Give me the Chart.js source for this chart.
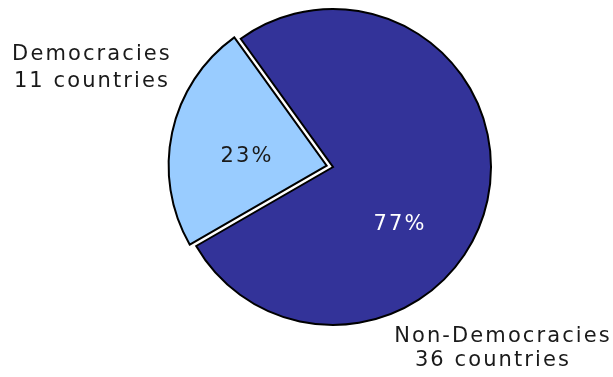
<!DOCTYPE html>
<html>
<head>
<meta charset="utf-8">
<script src="https://cdn.jsdelivr.net/npm/chart.js@4"></script>
<style>
  html, body { margin: 0; padding: 0; background: #fff; }
  canvas { display: block; }
</style>
</head>
<body>
<canvas id="regimeChart" width="613" height="377"></canvas>
<script>
const categories = ['Democracies', 'Non-Democracies'];
const countries = [11, 36];
const sliceColors = ['#99CCFF', '#333399'];
const pctColors = ['#1a1a1a', '#ffffff'];

// label placement, relative to the pie centre: [x, y] for the percentage,
// [name x, name y, count x, count y] for the outside caption
const pctPos = [[-86, -5], [67, 63]];
const namePos = [[-241, -107, -241, -80], [170, 175, 160, 199]];

const total = countries.reduce((a, b) => a + b, 0);

const labelPlugin = {
    id: 'sliceLabels',
    afterDatasetsDraw(chart) {
        const ctx = chart.ctx;
        const arcs = chart.getDatasetMeta(0).data;
        const cx = (chart.chartArea.left + chart.chartArea.right) / 2;
        const cy = (chart.chartArea.top + chart.chartArea.bottom) / 2;
        ctx.save();
        ctx.font = '21px "DejaVu Sans"';
        ctx.letterSpacing = '2.1px';
        ctx.textAlign = 'center';
        ctx.textBaseline = 'alphabetic';
        arcs.forEach((arc, i) => {
            const pct = Math.round(countries[i] / total * 100) + '%';
            ctx.fillStyle = pctColors[i];
            ctx.fillText(pct, cx + pctPos[i][0], cy + pctPos[i][1]);

            const [nx, ny, kx, ky] = namePos[i];
            ctx.fillStyle = '#1a1a1a';
            ctx.fillText(categories[i], cx + nx, cy + ny);
            ctx.fillText(countries[i] + ' countries', cx + kx, cy + ky);
        });
        ctx.restore();
    }
};

new Chart(document.getElementById('regimeChart').getContext('2d'), {
    type: 'pie',
    data: {
        labels: categories,
        datasets: [{
            data: countries,
            backgroundColor: sliceColors,
            borderColor: '#000',
            borderWidth: 2,
            borderJoinStyle: 'miter',
            // arc offset is drawn at a quarter of this value
            offset: [26, 0]
        }]
    },
    options: {
        responsive: false,
        animation: false,
        events: [],
        rotation: 240,
        radius: 158,
        layout: { padding: { left: 173, right: 120, top: 8, bottom: 51 } },
        plugins: {
            legend: { display: false },
            tooltip: { enabled: false }
        }
    },
    plugins: [labelPlugin]
});
</script>
</body>
</html>
